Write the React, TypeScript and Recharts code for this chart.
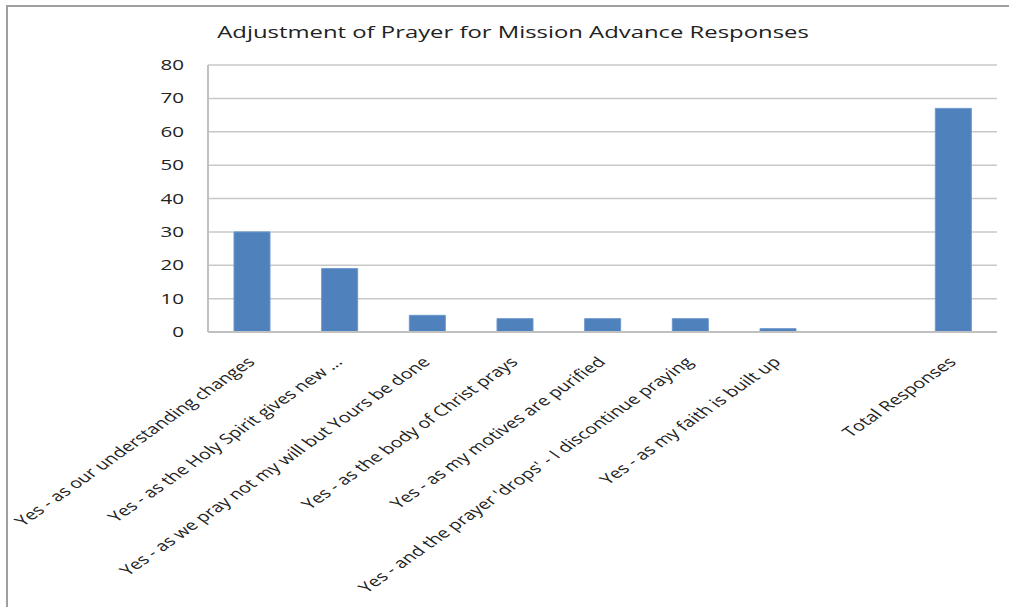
import React from "react";
import { BarChart, Bar, XAxis, YAxis, CartesianGrid } from "recharts";

const categories = [
  "Yes - as our understanding changes",
  "Yes - as the Holy Spirit gives new ...",
  "Yes - as we pray not my will but Yours be done",
  "Yes - as the body of Christ prays",
  "Yes - as my motives are purified",
  "Yes - and the prayer 'drops' - I discontinue praying",
  "Yes - as my faith is built up",
  "",
  "Total Responses",
];
const values: (number | null)[] = [30, 19, 5, 4, 4, 4, 1, null, 67];
const yTicks = [0, 10, 20, 30, 40, 50, 60, 70, 80];
const title = "Adjustment of Prayer for Mission Advance Responses";

const data = categories.map((c, i) => ({ name: c, key: "c" + i, value: values[i] }));

const FONT = "'Open Sans', 'Liberation Sans', sans-serif";
const SX = 1.42;

const XTick = (props: any) => {
  const { x, y, payload } = props;
  const label = categories[payload.index] ?? "";
  return (
    <text
      transform={`translate(${x + 4},${y + 23}) scale(${SX},1) rotate(-45)`}
      textAnchor="end"
      fontSize={14}
      fontFamily={FONT}
      fill="#222"
    >
      {label}
    </text>
  );
};

const YTick = (props: any) => {
  const { x, y, payload } = props;
  return (
    <text
      transform={`translate(${x},${y + 5}) scale(${SX},1)`}
      textAnchor="end"
      fontSize={14.5}
      fontFamily={FONT}
      fill="#222"
    >
      {payload.value}
    </text>
  );
};

export default function App() {
  return (
    <div
      style={{
        position: "absolute",
        left: 0,
        top: 0,
        width: 1009,
        height: 607,
        background: "#fff",
        overflow: "hidden",
      }}
    >
      <div
        style={{
          position: "absolute",
          left: 6,
          top: 5,
          width: 1009,
          height: 610,
          borderLeft: "2px solid #a0a0a0",
          borderTop: "2px solid #a0a0a0",
        }}
      />
      <div style={{ position: "absolute", left: 0, top: 0 }}>
        <BarChart
          width={1009}
          height={607}
          data={data}
          margin={{ top: 65, right: 12, bottom: 0, left: 0 }}
          barCategoryGap={0}
        >
          <text
            transform={`translate(513,38) scale(${SX},1)`}
            textAnchor="middle"
            fontSize={16.8}
            fontFamily={FONT}
            fill="#222"
          >
            {title}
          </text>
          <CartesianGrid vertical={false} stroke="#c8c8c8" strokeWidth={1.5} />
          <XAxis
            dataKey="key"
            interval={0}
            height={275}
            tickLine={false}
            axisLine={{ stroke: "#c0c0c0", strokeWidth: 2 }}
            tick={<XTick />}
          />
          <YAxis
            domain={[0, 80]}
            ticks={yTicks}
            width={208}
            tickLine={false}
            axisLine={{ stroke: "#c0c0c0", strokeWidth: 2 }}
            tickMargin={18}
            tick={<YTick />}
          />
          <Bar
            dataKey="value"
            fill="#4F81BD"
            stroke="#6d97cc"
            strokeWidth={1}
            barSize={36}
            isAnimationActive={false}
          />
        </BarChart>
      </div>
    </div>
  );
}
